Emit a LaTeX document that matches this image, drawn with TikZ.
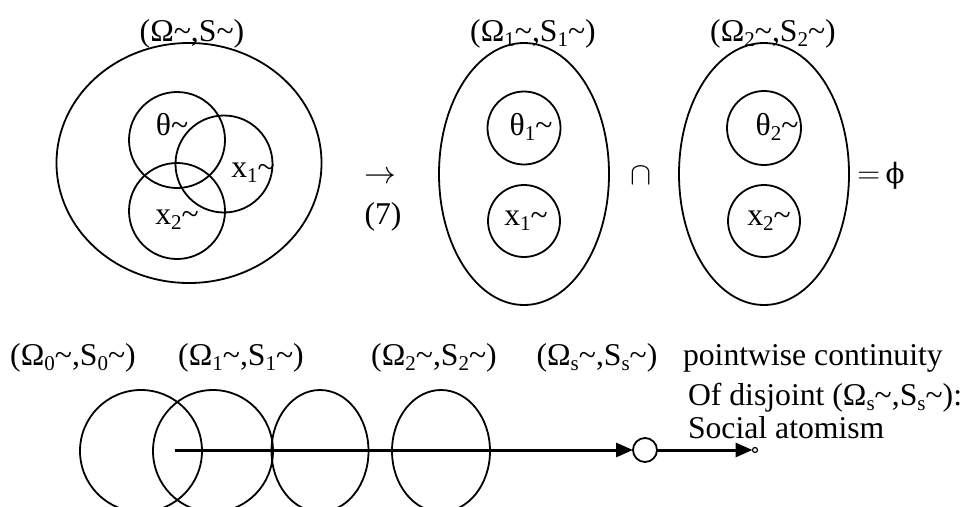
\documentclass[tikz,border=0pt]{standalone}
\usepackage{fix-cm}
\usepackage{fontspec}
\setmainfont{Liberation Serif}
\newfontfamily\dvs{DejaVu Serif}
\usetikzlibrary{shapes.geometric,arrows.meta}
\newcommand\lo[1]{\raisebox{-0.16em}{\fontsize{21}{21}\selectfont #1}}
\tikzset{
  every node/.style={inner sep=0pt, outer sep=0pt},
  txt/.style={font=\fontsize{31.7}{36}\selectfont, anchor=base},
  txtl/.style={font=\fontsize{31.7}{36}\selectfont, anchor=base west},
  ring/.style={draw, ellipse, line width=1.8pt},
  conn/.style={line width=3pt, -{Triangle[length=17pt,width=14pt]}}
}
\begin{document}
\begin{tikzpicture}[x=1pt,y=-1pt]
\useasboundingbox (0,0) rectangle (968,506);
% --- top left: big circle with three overlapping circles
\node[ring, minimum width=265pt, minimum height=240pt] (big) at (189,163) {};
\node[ring, minimum size=96pt] (th) at (177,140) {};
\node[ring, minimum size=97pt] (xa) at (224,164) {};
\node[ring, minimum size=96pt] (xb) at (177,211) {};
\node[txt] (lbig) at (192,41) {(Ω\char`~,S\char`~)};
\node[txt] (lth) at (172,135) {θ\char`~};
\node[txt] (lxa) at (253,177) {x\lo{1}\char`~};
\node[txt] (lxb) at (177,224) {x\lo{2}\char`~};
% --- arrow and (7)
\node[txt] (arr) at (380,183) {$\rightarrow$};
\node[txt] (seven) at (383,224) {(7)};
% --- ellipse 1
\node[ring, minimum width=170pt, minimum height=262pt] (e1) at (524,174) {};
\node[ring, minimum size=73pt] (t1) at (524,128) {};
\node[ring, minimum size=72pt] (x1) at (524,221) {};
\node[txt] (le1) at (533,41) {(Ω\lo{1}\char`~,S\lo{1}\char`~)};
\node[txt] (lt1) at (531,135) {θ\lo{1}\char`~};
\node[txt] (lx1) at (526,225) {x\lo{1}\char`~};
\node[txt] (cap) at (641,184) {$\cap$};
% --- ellipse 2
\node[ring, minimum width=170pt, minimum height=262pt] (e2) at (764,174) {};
\node[ring, minimum size=74pt] (t2) at (764,128) {};
\node[ring, minimum size=72pt] (x2) at (764,221) {};
\node[txt] (le2) at (773,41) {(Ω\lo{2}\char`~,S\lo{2}\char`~)};
\node[txt] (lt2) at (777,135) {θ\lo{2}\char`~};
\node[txt] (lx2) at (769,225) {x\lo{2}\char`~};
\node[txt] (eqphi) at (881,183) {$=$\,{\dvs\fontsize{28}{30}\selectfont ϕ}};
% --- bottom row
\node[txt] (b0) at (73,365) {(Ω\lo{0}\char`~,S\lo{0}\char`~)};
\node[txt] (b1) at (241,365) {(Ω\lo{1}\char`~,S\lo{1}\char`~)};
\node[txt] (b2) at (434,365) {(Ω\lo{2}\char`~,S\lo{2}\char`~)};
\node[txt] (bs) at (597,365) {(Ω\lo{s}\char`~,S\lo{s}\char`~)};
\node[txtl] (p1) at (683,365) {pointwise continuity};
\node[txtl] (p2) at (688,405) {Of disjoint (Ω\lo{s}\char`~,S\lo{s}\char`~):};
\node[txtl] (p3) at (688,438) {Social atomism};
\node[ring, minimum width=122pt, minimum height=122pt] (c0) at (141,451) {};
\node[ring, minimum width=120pt, minimum height=122pt] (c1) at (213,451) {};
\node[ring, minimum width=97pt, minimum height=122pt] (c2) at (320,451) {};
\node[ring, minimum width=98pt, minimum height=122pt] (c3) at (441,451) {};
\coordinate (start) at (175,450);
\node[draw, circle, line width=1.8pt, minimum size=24pt] (sc) at (645,450) {};
\node[draw, circle, line width=1.2pt, minimum size=5pt] (tip) at (755,450) {};
\draw[conn] (start) -- (sc);
\draw[conn] (sc) -- (tip);
\end{tikzpicture}
\end{document}
